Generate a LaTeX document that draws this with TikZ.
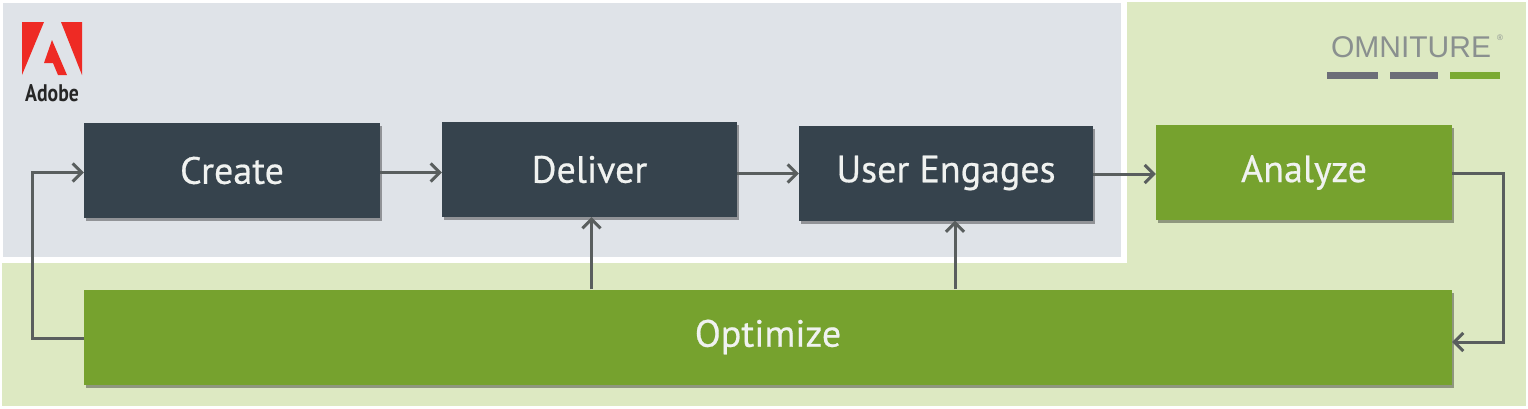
\documentclass[tikz,border=0pt]{standalone}
\usepackage{fontspec}
\setmainfont{PT Sans}
\newfontfamily\logofont{Liberation Sans}
\newfontfamily\boxfont[FakeBold=0.5]{PT Sans}
\usetikzlibrary{arrows.meta,shadows,calc}
\definecolor{bggreen}{HTML}{DDE9C2}
\definecolor{bggray}{HTML}{DFE3E8}
\definecolor{boxdark}{HTML}{36434D}
\definecolor{boxgreen}{HTML}{76A22E}
\definecolor{arrowgray}{HTML}{595E5E}
\definecolor{adobered}{HTML}{EE2A24}
\definecolor{omnigray}{HTML}{8A908F}
\definecolor{bargray}{HTML}{6C6E78}
\definecolor{bargreen}{HTML}{7BAA32}
\definecolor{boxtext}{HTML}{F0F2F0}
\begin{document}
\begin{tikzpicture}[x=1pt,y=-1pt,
  stepbox/.style={rectangle, inner sep=0pt, text=boxtext,
    font=\boxfont\fontsize{38}{40}\selectfont,
    drop shadow={shadow xshift=2pt,shadow yshift=-3pt,opacity=0.35,fill=black}},
  stepdark/.style={stepbox, fill=boxdark, minimum width=296pt, minimum height=95pt},
  stepgreen/.style={stepbox, fill=boxgreen, minimum width=296pt, minimum height=95pt},
  conn/.style={draw=arrowgray, line width=3pt, -{Straight Barb[length=9pt,width=18pt,line width=3pt]}}
]
\useasboundingbox (0,0) rectangle (1528,408);
% backgrounds
\fill[white] (0,0) rectangle (1528,408);
\fill[bggreen] (2,2) rectangle (1526,406);
\fill[white] (2,2) rectangle (1127,263);
\fill[bggray] (3,3) rectangle (1121,257);

% Adobe logo
\fill[adobered] (22,22) -- (44,22) -- (22,75) -- cycle;
\fill[adobered] (61,22) -- (82,22) -- (82,75) -- cycle;
\fill[adobered] (52,40) -- (67,75) -- (58,75) -- (53,63) -- (44,63) -- cycle;
\node[inner sep=0pt, font=\bfseries\fontsize{24}{24}\selectfont, text=black!85] (adobetext) at (52,93) {\scalebox{0.82}[1]{Adobe}};

% Omniture logo
\node[inner sep=0pt, font=\logofont\fontsize{30}{30}\selectfont, text=omnigray] (omni) at (1411,47) {OMNITURE};
\node[inner sep=0pt, font=\logofont\fontsize{8}{8}\selectfont, text=omnigray] (omnireg) at (1500,38) {®};
\fill[bargray] (1327,72) rectangle (1378,79);
\fill[bargray] (1390,72) rectangle (1438,79);
\fill[bargreen] (1450,72) rectangle (1500,79);

% boxes
\node[stepdark] (create) at (232,170.5) {Create};
\node[stepdark, minimum width=295pt] (deliver) at (589.5,169.5) {Deliver};
\node[stepdark, minimum width=294pt] (engage) at (946,173) {User Engages};
\node[stepgreen] (analyze) at (1304,172.5) {Analyze};
\node[stepgreen, minimum width=1368pt, minimum height=95pt] (optimize) at (768,337) {Optimize};

% connectors
\coordinate (rightturn) at (1503,173);
\coordinate (leftturn) at (32,338);
\draw[conn] ([yshift=-2pt]create.east) -- ([yshift=-2pt]create.east -| deliver.west);
\draw[conn] ([yshift=-4pt]deliver.east) -- ([yshift=-4pt]deliver.east -| engage.west);
\draw[conn] ([yshift=-1pt]engage.east) -- ([yshift=-1pt]engage.east -| analyze.west);
\draw[conn] (analyze.east |- rightturn) -- (rightturn) |- ([yshift=-5pt]optimize.east);
\draw[conn] (optimize.west |- leftturn) -- (leftturn) |- ([yshift=-2pt]create.west);
\draw[conn] ([xshift=2pt]optimize.north -| deliver.south) -- ([xshift=2pt]deliver.south);
\draw[conn] ([xshift=9pt]optimize.north -| engage.south) -- ([xshift=9pt]engage.south);
\end{tikzpicture}
\end{document}
